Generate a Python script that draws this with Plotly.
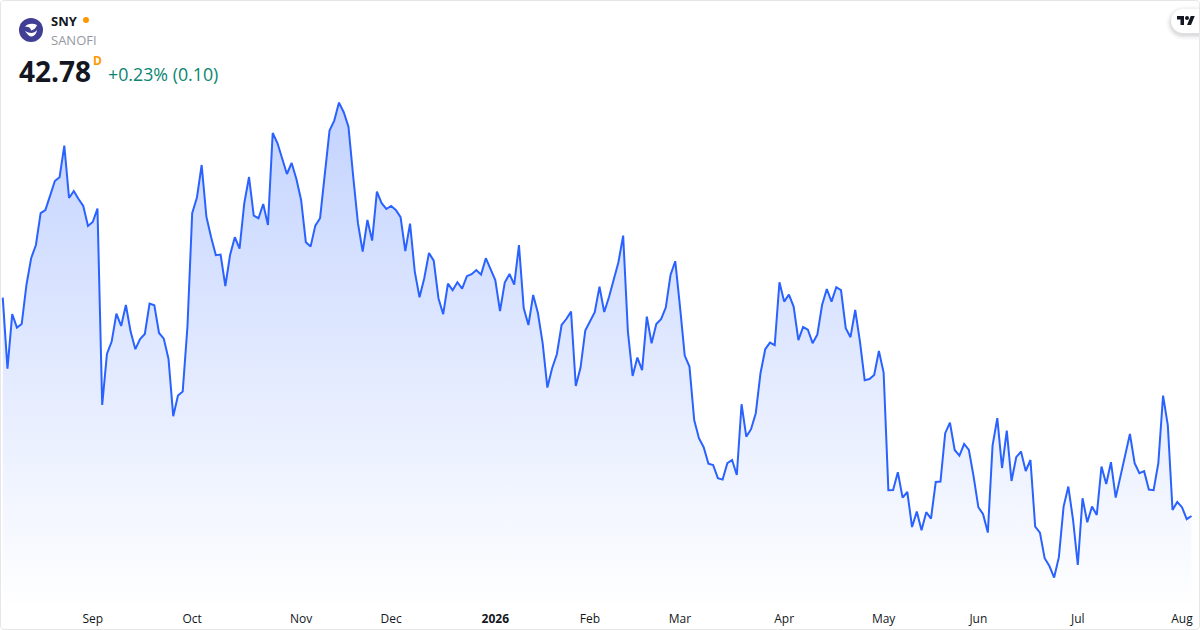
import plotly.graph_objects as go

close = [
    53.70, 50.15, 52.87, 52.20, 52.38, 54.33, 55.67, 56.33, 57.92, 58.08,
    58.80, 59.53, 59.72, 61.30, 58.68, 59.03, 58.63, 58.28, 57.28, 57.48,
    58.15, 48.33, 50.88, 51.50, 52.90, 52.28, 53.33, 52.00, 51.12, 51.63,
    51.88, 53.40, 53.32, 51.93, 51.65, 50.63, 47.77, 48.80, 49.00, 52.25,
    57.92, 58.70, 60.33, 57.75, 56.72, 55.82, 55.85, 54.28, 55.83, 56.72,
    56.15, 58.42, 59.73, 57.80, 57.67, 58.38, 57.33, 61.93, 61.43, 60.68,
    59.88, 60.43, 59.63, 58.58, 56.47, 56.25, 57.30, 57.67, 59.92, 62.05,
    62.55, 63.45, 62.97, 62.25, 59.75, 57.42, 56.00, 57.58, 56.55, 59.00,
    58.42, 58.13, 58.28, 58.08, 57.72, 56.02, 57.40, 55.00, 53.72, 54.67,
    55.93, 55.55, 53.67, 52.87, 54.40, 54.07, 54.47, 54.15, 54.77, 54.87,
    55.08, 54.85, 55.67, 55.12, 54.58, 53.02, 54.45, 54.88, 54.35, 56.32,
    53.18, 52.33, 53.83, 52.93, 51.42, 49.20, 50.17, 50.87, 52.33, 52.63,
    53.00, 49.28, 50.20, 52.05, 52.50, 52.97, 54.25, 52.98, 53.72, 54.67,
    55.47, 56.80, 52.00, 49.78, 50.70, 50.07, 52.75, 51.42, 52.38, 52.62,
    53.20, 54.83, 55.52, 53.25, 50.80, 50.25, 47.58, 46.67, 46.22, 45.40,
    45.33, 44.67, 44.60, 45.42, 45.58, 44.83, 48.37, 46.75, 47.12, 47.92,
    49.92, 51.12, 51.45, 51.32, 54.47, 53.50, 53.85, 53.25, 51.57, 52.23,
    52.10, 51.42, 51.85, 53.33, 54.13, 53.50, 54.22, 54.07, 52.17, 51.72,
    53.08, 51.50, 49.57, 49.63, 49.83, 51.03, 49.95, 44.07, 44.08, 44.97,
    43.70, 43.98, 42.23, 43.00, 42.07, 42.97, 42.65, 44.48, 44.50, 46.92,
    47.45, 46.08, 45.80, 46.38, 46.08, 44.75, 43.22, 42.87, 41.95, 46.30,
    47.67, 45.18, 47.05, 44.53, 45.72, 46.00, 45.03, 45.58, 42.25, 41.95,
    40.67, 40.28, 39.70, 40.72, 43.25, 44.25, 42.58, 40.33, 43.67, 42.47,
    43.25, 42.83, 45.25, 44.38, 45.47, 43.70, 44.75, 45.88, 46.88, 45.42,
    44.92, 45.02, 44.10, 44.07, 45.42, 48.80, 47.33, 43.08, 43.48, 43.22,
    42.62, 42.78,
]
tick_index = [19, 40, 63, 82, 104, 124, 143, 165, 186, 206, 227, 249]
tick_labels = ["Sep", "Oct", "Nov", "Dec", "<b>2026</b>", "Feb", "Mar", "Apr",
               "May", "Jun", "Jul", "Aug"]

WIDTH = 1200
HEIGHT = 630
PLOT_H = 608
FONT = "Open Sans"


def px(x, y):
    """Page pixels to paper coordinates."""
    return x / WIDTH, 1 - y / PLOT_H


def path(*parts):
    """Build an SVG path from (command, x, y, ...) tuples given in page pixels."""
    out = []
    for part in parts:
        cmd, coords = part[0], part[1:]
        pairs = [px(coords[i], coords[i + 1]) for i in range(0, len(coords), 2)]
        out.append(cmd + " ".join(f"{a:.5f},{b:.5f}" for a, b in pairs))
    return "".join(out) + "Z"


def bubble(left, top, bottom, right=1199, r=12):
    return path(("M", right, top), ("L", left + r, top),
                ("C", left + r * 0.45, top, left, top + r * 0.45, left, top + r),
                ("C", left, bottom - r * 0.45, left + r * 0.45, bottom, left + r, bottom),
                ("L", right, bottom))


fig = go.Figure()
fig.add_trace(go.Scatter(
    x=list(range(len(close))),
    y=close,
    mode="lines",
    line=dict(color="#2962ff", width=2),
    fill="tozeroy",
    fillgradient=dict(
        type="vertical",
        start=63.48,
        stop=38.08,
        colorscale=[[0, "rgba(41,98,255,0.28)"], [1, "rgba(41,98,255,0)"]],
    ),
    hoverinfo="skip",
    showlegend=False,
))

shapes = []
# outer frame
shapes.append(dict(type="path", xref="paper", yref="paper",
                   path=path(("M", 4, 0.5), ("L", 1195.5, 0.5),
                             ("C", 1198, 0.5, 1199.5, 2, 1199.5, 4), ("L", 1199.5, 626),
                             ("C", 1199.5, 628, 1198, 629.5, 1195.5, 629.5), ("L", 4, 629.5),
                             ("C", 2, 629.5, 0.5, 628, 0.5, 626), ("L", 0.5, 4),
                             ("C", 0.5, 2, 2, 0.5, 4, 0.5)),
                   line=dict(color="#e6e6e6", width=1), layer="above"))
# logo bubble with a soft shadow
for grow, alpha in [(5, 0.02), (3.5, 0.03), (2, 0.04), (1, 0.05)]:
    shapes.append(dict(type="path", xref="paper", yref="paper",
                       path=bubble(1171 - grow, 9 - grow + 2, 33 + grow + 2, r=12 + grow),
                       fillcolor=f"rgba(19,23,34,{alpha})", line=dict(width=0), layer="above"))
shapes.append(dict(type="path", xref="paper", yref="paper", path=bubble(1171, 9, 33),
                   fillcolor="white", line=dict(width=0), layer="above"))
# TradingView mark
shapes.append(dict(type="path", xref="paper", yref="paper",
                   path=path(("M", 1184, 25), ("L", 1180.5, 25), ("L", 1180.5, 19.5), ("L", 1177, 19.5),
                             ("L", 1177, 16), ("L", 1184, 16)),
                   fillcolor="#131722", line=dict(width=0), layer="above"))
shapes.append(dict(type="path", xref="paper", yref="paper",
                   path=path(("M", 1191, 25), ("L", 1187, 25), ("L", 1190.75, 16), ("L", 1194.75, 16)),
                   fillcolor="#131722", line=dict(width=0), layer="above"))
cx0, cy1 = px(1185, 16)
cx1, cy0 = px(1189, 20)
shapes.append(dict(type="circle", xref="paper", yref="paper", x0=cx0, x1=cx1, y0=cy0, y1=cy1,
                   fillcolor="#131722", line=dict(width=0), layer="above"))
# company logo
cx0, cy1 = px(19, 18)
cx1, cy0 = px(43, 42)
shapes.append(dict(type="circle", xref="paper", yref="paper", x0=cx0, x1=cx1, y0=cy0, y1=cy1,
                   fillcolor="#413e96", line=dict(width=0), layer="above"))
shapes.append(dict(type="path", xref="paper", yref="paper",
                   path=path(("M", 25, 27), ("C", 27, 23.5, 33, 23, 37, 25),
                             ("C", 36, 28, 34, 30, 31, 30.5), ("C", 31, 28, 28, 26, 25, 27)),
                   fillcolor="white", line=dict(width=0), layer="above"))
shapes.append(dict(type="path", xref="paper", yref="paper",
                   path=path(("M", 25, 31), ("C", 27, 34, 29, 36.5, 31, 36.5),
                             ("C", 34, 36.5, 36.5, 34, 37, 30), ("C", 34.5, 33.5, 30, 34, 25, 31)),
                   fillcolor="white", line=dict(width=0), layer="above"))
# market status dot
cx0, cy1 = px(83, 17)
cx1, cy0 = px(89, 23)
shapes.append(dict(type="circle", xref="paper", yref="paper", x0=cx0, x1=cx1, y0=cy0, y1=cy1,
                   fillcolor="#ff9800", line=dict(width=0), layer="above"))


def label(x, y, text, size, color):
    ax, ay = px(x, y)
    return dict(x=ax, y=ay, xref="paper", yref="paper", xanchor="left", yanchor="middle",
                text=text, showarrow=False, font=dict(family=FONT, size=size, color=color),
                borderpad=0, borderwidth=0)


fig.update_layout(
    width=WIDTH,
    height=HEIGHT,
    margin=dict(l=0, r=0, t=0, b=HEIGHT - PLOT_H, pad=0),
    paper_bgcolor="white",
    plot_bgcolor="white",
    showlegend=False,
    shapes=shapes,
    annotations=[
        label(51, 21, "<b>SNY</b>", 13, "#131722"),
        label(51, 40, "SANOFI", 13, "#9598a1"),
        label(19, 71, "<b>42.78</b>", 28, "#131722"),
        label(93, 61, "<b>D</b>", 12, "#ff9800"),
        label(108, 74, "+0.23% (0.10)", 17.8, "#0b8570"),
    ],
)
fig.update_xaxes(
    range=[-0.58, 252.8],
    tickmode="array",
    tickvals=tick_index,
    ticktext=tick_labels,
    tickfont=dict(family=FONT, size=12, color="#131722"),
    ticks="",
    ticklabelstandoff=2,
    showgrid=False,
    showline=False,
    zeroline=False,
    fixedrange=True,
)
fig.update_yaxes(range=[38.18, 68.58], visible=False, showgrid=False, zeroline=False, fixedrange=True)

fig.write_html("out.html", config={"displayModeBar": False},
               post_script="document.body.style.margin='0';document.body.style.overflow='hidden';")
